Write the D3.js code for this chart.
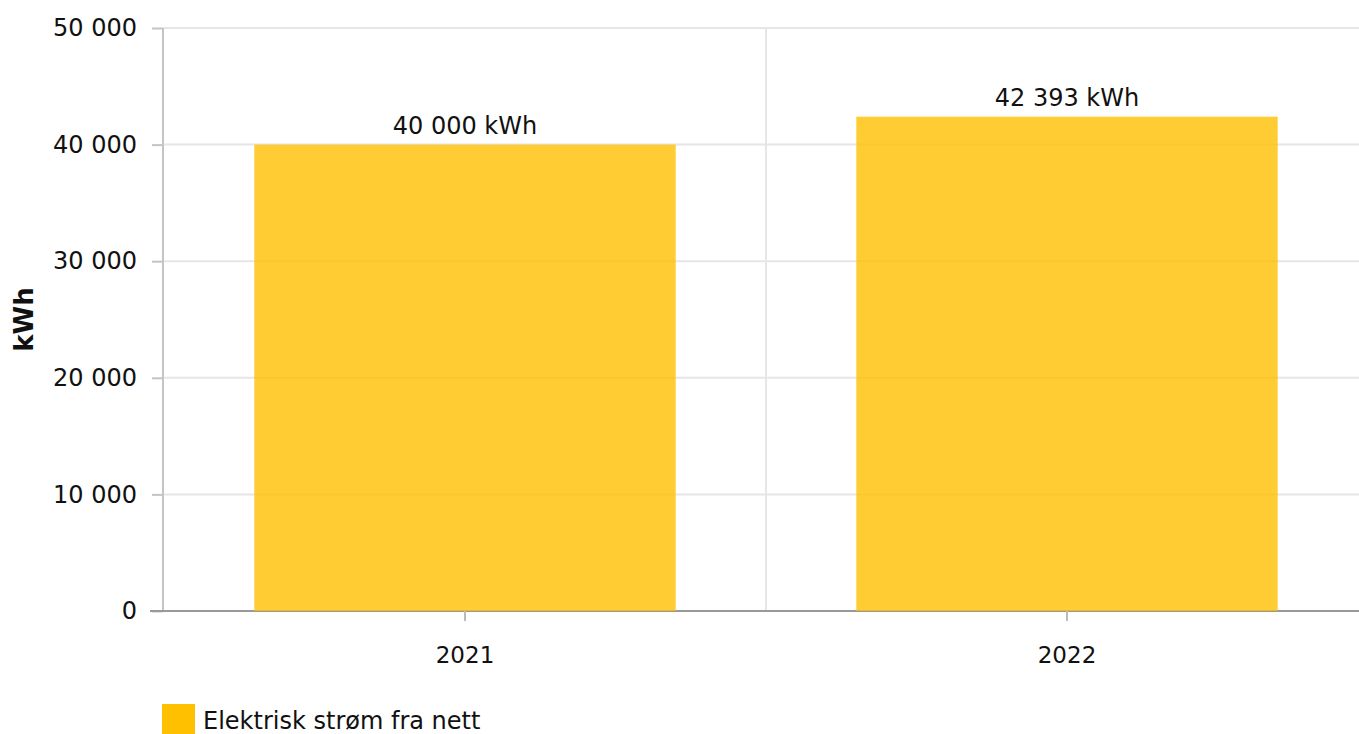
<!DOCTYPE html>
<html>
<head>
<meta charset="utf-8">
<script src="https://cdn.jsdelivr.net/npm/d3@7"></script>
<style>
  html, body { margin: 0; padding: 0; background: #fff; }
  svg { display: block; }
  text { font-family: "DejaVu Sans", Verdana, sans-serif; fill: #111; }
</style>
</head>
<body>
<svg id="chart" width="1359" height="734"></svg>
<script>
const categories = ["2021", "2022"];
const values = [40000, 42393];
const seriesName = "Elektrisk strøm fra nett";
const yTicks = [0, 10000, 20000, 30000, 40000, 50000];
const yTitle = "kWh";
const unit = "kWh";

(function () {
const W = 1359, H = 734;
const svg = d3.select("#chart");
const pLeft = 163, pRight = 1368, pTop = 28, pBottom = 611;

const locale = d3.formatLocale({decimal: ",", thousands: " ", grouping: [3], currency: ["", ""]});
const fmt = locale.format(",.0f");

const x = d3.scaleBand().domain(categories).range([pLeft + 1, pRight]).paddingInner(0.3).paddingOuter(0.15);
const y = d3.scaleLinear().domain([0, 50000]).range([pBottom, pTop]);

// horizontal gridlines
svg.append("g").selectAll("line").data(yTicks).join("line")
  .attr("x1", pLeft).attr("x2", W)
  .attr("y1", d => y(d)).attr("y2", d => y(d))
  .attr("stroke", "#e6e6e6").attr("stroke-width", 2);

// vertical gridline between categories
const step = x.step();
svg.append("g").selectAll("line").data(categories.slice(1)).join("line")
  .attr("x1", d => x(d) + x.bandwidth() / 2 - step / 2)
  .attr("x2", d => x(d) + x.bandwidth() / 2 - step / 2)
  .attr("y1", pTop).attr("y2", pBottom)
  .attr("stroke", "#e6e6e6").attr("stroke-width", 2);

// y axis
const yAxis = d3.axisLeft(y).tickValues(yTicks).tickFormat(fmt).tickSize(11).tickPadding(15);
const gy = svg.append("g").attr("transform", `translate(${pLeft},0)`).call(yAxis);
gy.select(".domain").attr("stroke", "#c4c4c4").attr("stroke-width", 2).attr("d", `M0,${pTop}V${pBottom}`);
gy.selectAll(".tick line").attr("stroke", "#c4c4c4").attr("stroke-width", 2);
gy.selectAll(".tick text").attr("font-size", 24).attr("fill", "#111")
  .style("font-family", '"DejaVu Sans", Verdana, sans-serif').attr("dy", "0.32em");

// x axis
const xAxis = d3.axisBottom(x).tickSize(10).tickPadding(26);
const gx = svg.append("g").attr("transform", `translate(0,${pBottom})`).call(xAxis);
gx.select(".domain").attr("stroke", "#999").attr("stroke-width", 2).attr("d", `M${pLeft - 13},0H${W}`);
gx.selectAll(".tick line").attr("stroke", "#bbb").attr("stroke-width", 2);
gx.selectAll(".tick text").attr("font-size", 23).attr("fill", "#111")
  .style("font-family", '"DejaVu Sans", Verdana, sans-serif');

// bars
svg.append("g").selectAll("rect").data(categories).join("rect")
  .attr("x", d => x(d))
  .attr("width", x.bandwidth())
  .attr("y", (d, i) => y(values[i]))
  .attr("height", (d, i) => y(0) - y(values[i]))
  .attr("fill", "#ffc000").attr("fill-opacity", 0.8);

// value labels
svg.append("g").selectAll("text").data(categories).join("text")
  .attr("x", d => x(d) + x.bandwidth() / 2)
  .attr("y", (d, i) => y(values[i]) - 11)
  .attr("text-anchor", "middle")
  .attr("font-size", 24)
  .text((d, i) => fmt(values[i]) + " " + unit);

// y title
svg.append("text")
  .attr("transform", `translate(33,${(pTop + pBottom) / 2}) rotate(-90)`)
  .attr("text-anchor", "middle")
  .attr("font-size", 26).attr("font-weight", "bold")
  .text(yTitle);

// legend
const lg = svg.append("g").attr("transform", "translate(162,704)");
lg.append("rect").attr("width", 33).attr("height", 33).attr("fill", "#ffc000");
lg.append("text").attr("x", 41).attr("y", 25).attr("font-size", 24).text(seriesName);
})();
</script>
</body>
</html>
